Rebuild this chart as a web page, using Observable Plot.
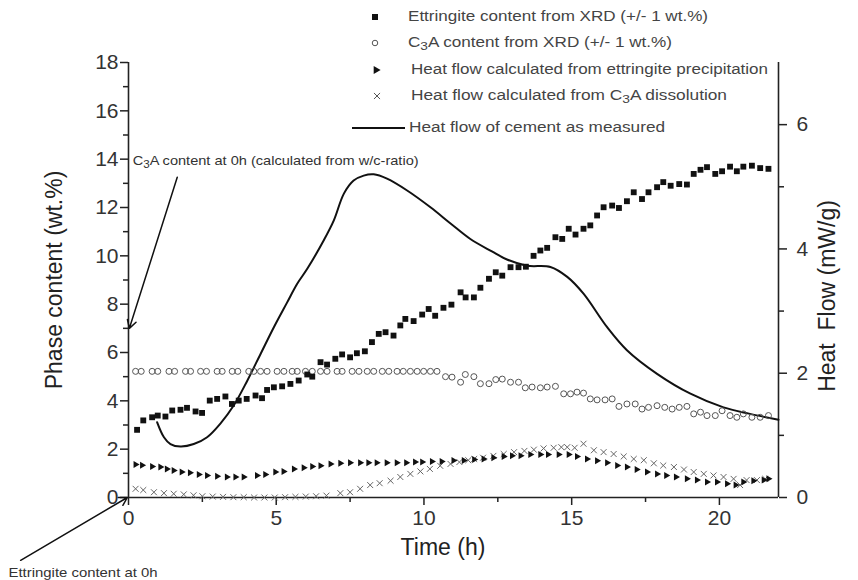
<!DOCTYPE html>
<html><head><meta charset="utf-8">
<script src="https://cdn.jsdelivr.net/npm/d3@7"></script>
<script src="https://cdn.jsdelivr.net/npm/@observablehq/plot@0.6"></script>
<style>
body{margin:0;background:#fff}
#chart{position:relative;width:858px;height:580px;overflow:hidden}
svg{overflow:visible}
</style>
</head><body><div id="chart"></div>
<script>
// ---- Data ----
const ettTime = [0.29,0.50,0.80,0.99,1.25,1.48,1.76,1.98,2.27,2.49,2.75,3.00,3.28,3.50,3.73,4.00,4.30,4.52,4.69,4.92,5.20,5.48,5.76,6.05,6.22,6.50,6.72,7.00,7.23,7.50,7.73,8.00,8.24,8.47,8.70,8.97,9.20,9.37,9.65,9.94,10.16,10.38,10.66,10.93,11.24,11.41,11.69,11.91,12.20,12.43,12.65,12.93,13.20,13.45,13.71,13.94,14.17,14.45,14.68,14.90,15.13,15.40,15.63,15.86,16.08,16.37,16.60,16.87,17.10,17.38,17.60,17.89,18.10,18.35,18.64,18.90,19.13,19.36,19.58,19.86,20.09,20.36,20.59,20.81,21.10,21.38,21.66];
const ettContent = [2.80,3.19,3.32,3.39,3.35,3.60,3.63,3.71,3.56,3.50,4.01,4.08,4.18,3.87,4.01,4.08,4.22,4.11,4.45,4.56,4.60,4.70,4.84,5.09,5.00,5.60,5.50,5.74,5.92,5.80,5.97,6.05,6.43,6.77,6.84,6.70,7.12,7.39,7.30,7.57,7.80,7.52,7.85,7.98,8.49,8.28,8.28,8.68,9.05,9.32,9.18,9.53,9.53,9.55,10.00,10.22,10.33,10.77,10.70,11.12,10.88,11.12,11.26,11.67,12.01,12.08,11.98,12.26,12.63,12.35,12.63,12.84,13.05,12.90,12.97,12.95,13.39,13.56,13.67,13.39,13.50,13.69,13.50,13.69,13.73,13.63,13.60];

const c3aTime = [0.24,0.43,0.80,0.99,1.37,1.56,1.93,2.10,2.44,2.64,3.00,3.17,3.51,3.70,4.07,4.24,4.47,4.69,5.03,5.26,5.54,5.71,5.99,6.22,6.50,6.72,7.06,7.23,7.57,7.80,8.08,8.30,8.59,8.81,9.09,9.30,9.54,9.77,9.99,10.22,10.44,10.73,10.95,11.24,11.40,11.69,11.91,12.20,12.43,12.65,12.93,13.20,13.43,13.66,13.94,14.17,14.45,14.73,14.96,15.18,15.40,15.63,15.86,16.13,16.37,16.60,16.87,17.15,17.38,17.60,17.89,18.15,18.40,18.64,18.90,19.13,19.36,19.58,19.86,20.09,20.36,20.59,20.81,21.10,21.38,21.66];
const c3aContent = [5.22,5.22,5.22,5.22,5.22,5.22,5.22,5.22,5.22,5.22,5.22,5.22,5.22,5.22,5.22,5.22,5.22,5.22,5.22,5.22,5.22,5.22,5.22,5.22,5.22,5.22,5.22,5.22,5.22,5.22,5.22,5.22,5.22,5.22,5.22,5.22,5.22,5.22,5.22,5.22,5.22,5.00,4.98,4.77,5.09,5.00,4.71,4.71,4.88,4.90,4.77,4.77,4.54,4.57,4.54,4.57,4.60,4.29,4.29,4.36,4.32,4.08,4.04,4.04,4.08,3.77,3.87,3.87,3.66,3.73,3.80,3.73,3.66,3.73,3.77,3.46,3.53,3.39,3.39,3.59,3.39,3.32,3.46,3.32,3.32,3.39];

const hEttTime = [0.24,0.46,0.80,1.08,1.30,1.53,1.80,2.08,2.38,2.66,3.00,3.33,3.62,3.90,4.35,4.63,4.97,5.25,5.60,5.93,6.22,6.50,6.84,7.17,7.50,7.84,8.12,8.40,8.74,9.08,9.40,9.70,9.94,10.27,10.60,11.00,11.35,11.70,12.02,12.35,12.70,12.98,13.27,13.60,13.94,14.20,14.56,14.90,15.18,15.52,15.86,16.20,16.54,16.87,17.20,17.55,17.89,18.20,18.53,18.90,19.24,19.58,19.92,20.26,20.55,20.81,21.15,21.50,21.66];
const hEttFlow = [0.53,0.52,0.50,0.49,0.46,0.435,0.41,0.40,0.37,0.355,0.34,0.33,0.33,0.33,0.355,0.37,0.41,0.42,0.46,0.48,0.50,0.51,0.54,0.55,0.56,0.56,0.56,0.56,0.56,0.56,0.56,0.57,0.57,0.58,0.58,0.595,0.595,0.61,0.62,0.64,0.66,0.67,0.67,0.69,0.69,0.69,0.69,0.69,0.66,0.62,0.59,0.56,0.515,0.49,0.45,0.41,0.38,0.355,0.33,0.30,0.28,0.25,0.25,0.22,0.20,0.25,0.27,0.28,0.30];

const hC3aTime = [0.24,0.50,0.86,1.20,1.53,1.87,2.20,2.50,2.85,3.20,3.55,3.90,4.25,4.60,4.95,5.30,5.65,6.00,6.35,6.70,7.17,7.50,7.84,8.18,8.50,8.87,9.20,9.54,9.88,10.20,10.55,10.90,11.20,11.50,11.70,12.00,12.35,12.70,13.05,13.40,13.72,14.05,14.39,14.65,14.85,15.10,15.40,15.75,16.08,16.42,16.76,17.10,17.44,17.78,18.10,18.46,18.80,19.13,19.47,19.80,20.14,20.48,20.70,20.92,21.27,21.55];
const hC3aFlow = [0.14,0.12,0.085,0.07,0.06,0.05,0.035,0.02,0.015,0.01,0.005,0.005,0.0,0.0,0.0,0.005,0.01,0.015,0.02,0.03,0.07,0.085,0.14,0.20,0.23,0.27,0.33,0.38,0.42,0.46,0.51,0.54,0.57,0.60,0.62,0.64,0.67,0.70,0.73,0.75,0.77,0.79,0.80,0.81,0.81,0.80,0.865,0.76,0.73,0.70,0.66,0.62,0.60,0.55,0.515,0.49,0.45,0.41,0.38,0.355,0.33,0.30,0.20,0.28,0.28,0.30];

const heatTime = [0.97,1.20,1.42,1.76,2.21,2.66,3.11,3.56,4.02,4.47,4.92,5.37,5.71,6.05,6.61,6.95,7.29,7.62,7.96,8.30,8.75,9.43,10.22,10.90,11.57,12.30,12.81,13.49,14.28,14.85,15.40,16.20,16.87,17.89,19.02,20.14,21.00,22.00];
const heatFlow = [1.21,0.97,0.86,0.82,0.86,0.97,1.19,1.48,1.88,2.31,2.74,3.14,3.44,3.68,4.14,4.46,4.89,5.10,5.18,5.20,5.13,4.94,4.67,4.41,4.16,3.96,3.83,3.73,3.71,3.55,3.28,2.74,2.37,1.99,1.67,1.45,1.35,1.25];

const xTicks = [0,5,10,15,20];
const xMinor = [2.5,7.5,12.5,17.5];
const yTicks = [0,2,4,6,8,10,12,14,16,18];
const yMinor = [1,3,5,7,9,11,13,15,17];
const rTicks = [0,2,4,6];
const rMinor = [1,3,5];

const legendLabels = [
  "Ettringite content from XRD (+/- 1 wt.%)",
  "C_3A content from XRD (+/- 1 wt.%)",
  "Heat flow calculated from ettringite precipitation",
  "Heat flow calculated from C_3A dissolution",
  "Heat flow of cement as measured"
];
const annotations = [
  {text:"C_3A content at 0h (calculated from w/c-ratio)", x:0.14, y:13.95, x1:1.65, y1:13.25, x2:0.03, y2:7.0},
  {text:"Ettringite content at 0h", x:-4.06, y:-3.1, x1:-3.65, y1:-2.6, x2:-0.04, y2:0.0}
];

// ---- Build tables ----
const k = 18/7; // heat flow (right axis, 0..7) -> left scale (0..18)
const ett = ettTime.map((t,i)=>({t, v:ettContent[i]}));
const c3a = c3aTime.map((t,i)=>({t, v:c3aContent[i]}));
const hEtt = hEttTime.map((t,i)=>({t, v:hEttFlow[i]}));
const hC3a = hC3aTime.map((t,i)=>({t, v:hC3aFlow[i]}));
const heat = heatTime.map((t,i)=>({t, v:heatFlow[i]}));

const FONT = "'Liberation Sans', Arial, Helvetica, sans-serif";
const AX = "#222";

const svg = Plot.plot({
  width: 858, height: 580,
  marginLeft: 128, marginRight: 80, marginTop: 62, marginBottom: 83,
  style: {fontFamily: FONT, color: AX, background: "#fff", overflow: "visible"},
  x: {domain: [0, 22]},
  y: {domain: [0, 18]},
  marks: [
    Plot.axisX({ticks: xTicks, tickSize: 8, tickPadding: 5, fontSize: 21, label: null, strokeWidth: 1.5, fill: "#333"}),
    Plot.axisX({ticks: xMinor, tickSize: 5, text: null, label: null, strokeWidth: 1.5}),
    Plot.axisY({anchor: "left", ticks: yTicks, tickSize: 8, tickPadding: 2, fontSize: 21, label: null, strokeWidth: 1.5, fill: "#333"}),
    Plot.axisY({anchor: "left", ticks: yMinor, tickSize: 5, text: null, label: null, strokeWidth: 1.5}),
    Plot.axisY({anchor: "right", ticks: rTicks.map(d => d * k), tickFormat: d => String(Math.round(d / k)), tickSize: 8, tickPadding: 10, fontSize: 21, label: null, strokeWidth: 1.5, fill: "#333"}),
    Plot.axisY({anchor: "right", ticks: rMinor.map(d => d * k), tickSize: 5, text: null, label: null, strokeWidth: 1.5}),
    Plot.ruleX([0], {stroke: AX, strokeWidth: 1.6}),
    Plot.ruleX([22], {stroke: AX, strokeWidth: 1.6}),
    Plot.ruleY([0], {stroke: AX, strokeWidth: 1.6}),
    Plot.line(heat, {x: "t", y: d => d.v * k, curve: "catmull-rom", stroke: "#111", strokeWidth: 2}),
    Plot.dot(c3a, {x: "t", y: "v", symbol: "circle", r: 3, stroke: "#555", fill: "none", strokeWidth: 1}),
    Plot.dot(hC3a, {x: "t", y: d => d.v * k, symbol: "times", r: 2.8, stroke: "#666", strokeWidth: 1}),
    Plot.dot(hEtt, {x: "t", y: d => d.v * k, symbol: "triangle", rotate: 90, r: 2.6, fill: "#111"}),
    Plot.dot(ett, {x: "t", y: "v", symbol: "square", r: 3.3, fill: "#111"}),
    Plot.arrow(annotations, {x1: "x1", y1: "y1", x2: "x2", y2: "y2", stroke: "#111", strokeWidth: 1.5, headLength: 9}),
    Plot.text(annotations, {x: "x", y: "y", text: "text", textAnchor: "start", fontSize: 13, fill: "#333"})
  ]
});

const root = d3.select(svg);

// rendered widths of texts in the reference (it is slightly stretched horizontally)
const textWidths = new Map([
  [legendLabels[0], 300], [legendLabels[1], 264], [legendLabels[2], 357], [legendLabels[3], 316], [legendLabels[4], 256],
  [annotations[0].text, 286], [annotations[1].text, 149]
]);

function subscriptify(sel) {
  sel.each(function() {
    const el = d3.select(this);
    const s = this.textContent;
    if (textWidths.has(s)) el.attr("textLength", textWidths.get(s)).attr("lengthAdjust", "spacingAndGlyphs");
    if (!s.includes("_3")) return;
    const parts = s.split("_3");
    el.text(null);
    el.append("tspan").text(parts[0]);
    el.append("tspan").attr("dy", "0.35em").attr("font-size", "0.8em").text("3");
    el.append("tspan").attr("dy", "-0.28em").text(parts[1]);
  });
}

const titles = root.append("g").attr("font-family", FONT).attr("fill", "#222").attr("font-size", 23).attr("text-anchor", "middle");
titles.append("text").attr("transform", "translate(56,280) rotate(-90)").attr("dominant-baseline", "middle").text("Phase content (wt.%)");
titles.append("text").attr("transform", "translate(829,296) rotate(-90)").attr("dominant-baseline", "middle").attr("xml:space", "preserve").style("white-space", "pre").text("Heat  Flow (mW/g)");
titles.append("text").attr("x", 443).attr("y", 549).attr("dominant-baseline", "middle").text("Time (h)");

const lg = root.append("g").attr("font-family", FONT).attr("font-size", 14).attr("fill", "#444").attr("text-anchor", "start");
const rowsY = [17, 43, 70, 96, 128];
const symX = [375, 375, 376, 377];
const txtX = [408, 408, 411, 411, 409];
lg.append("path").attr("transform", `translate(${symX[0]},${rowsY[0]})`).attr("d", d3.symbol(d3.symbolSquare, 36)()).attr("fill", "#111");
lg.append("path").attr("transform", `translate(${symX[1]},${rowsY[1]})`).attr("d", d3.symbol(d3.symbolCircle, 24)()).attr("fill", "none").attr("stroke", "#555");
lg.append("path").attr("transform", `translate(${symX[2]},${rowsY[2]}) rotate(90)`).attr("d", d3.symbol(d3.symbolTriangle, 28)()).attr("fill", "#111");
lg.append("path").attr("transform", `translate(${symX[3]},${rowsY[3]})`).attr("d", d3.symbol(d3.symbolTimes, 26)()).attr("fill", "none").attr("stroke", "#555");
lg.append("line").attr("x1", 352).attr("x2", 405).attr("y1", rowsY[4]).attr("y2", rowsY[4]).attr("stroke", "#111").attr("stroke-width", 2);
legendLabels.forEach((s, i) => {
  lg.append("text").attr("x", txtX[i]).attr("y", rowsY[i]).attr("dominant-baseline", "middle").text(s);
});

subscriptify(root.selectAll("text"));

document.getElementById("chart").appendChild(svg);
</script>
</body></html>
